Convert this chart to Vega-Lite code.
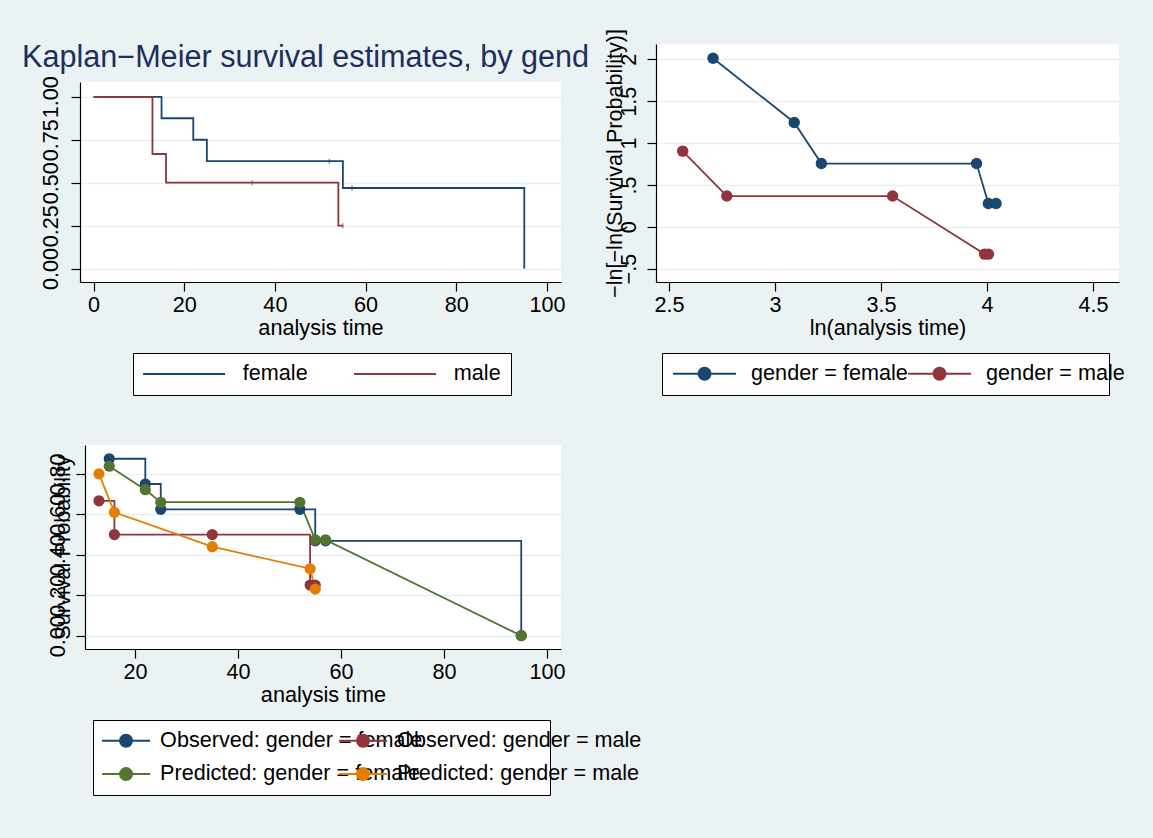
{
  "$schema": "https://vega.github.io/schema/vega-lite/v6.json",
  "background": "#EAF2F3",
  "padding": {"left": 22, "top": 28, "right": 18, "bottom": 43},
  "autosize": {"type": "pad"},
  "config": {
    "font": "Liberation Sans",
    "view": {"stroke": null, "fill": "white"},
    "axis": {
      "domainColor": "black", "tickColor": "black", "domainWidth": 1.2, "tickWidth": 1.2, "tickSize": 9,
      "labelFont": "Liberation Sans", "labelFontSize": 21.6, "labelColor": "black",
      "titleFont": "Liberation Sans", "titleFontSize": 21.7, "titleFontWeight": "normal", "titleColor": "black",
      "gridColor": "#E6EEF1", "gridWidth": 1.5, "labelOverlap": false, "labelFlush": false
    },
    "legend": {"labelFont": "Liberation Sans", "labelFontSize": 21.6, "labelColor": "black", "labelLimit": 500}
  },
  "datasets": {
    "km": [
      {"gender": "female", "time": 0, "surv": 1},
      {"gender": "female", "time": 15, "surv": 0.875},
      {"gender": "female", "time": 22, "surv": 0.75},
      {"gender": "female", "time": 25, "surv": 0.625},
      {"gender": "female", "time": 52, "surv": 0.625},
      {"gender": "female", "time": 55, "surv": 0.469},
      {"gender": "female", "time": 57, "surv": 0.469},
      {"gender": "female", "time": 95, "surv": 0},
      {"gender": "male", "time": 0, "surv": 1},
      {"gender": "male", "time": 13, "surv": 0.667},
      {"gender": "male", "time": 16, "surv": 0.5},
      {"gender": "male", "time": 35, "surv": 0.5},
      {"gender": "male", "time": 54, "surv": 0.25},
      {"gender": "male", "time": 55, "surv": 0.25}
    ],
    "kmcens": [
      {"gender": "female", "time": 52, "surv": 0.625},
      {"gender": "female", "time": 57, "surv": 0.469},
      {"gender": "male", "time": 35, "surv": 0.5},
      {"gender": "male", "time": 55, "surv": 0.25}
    ],
    "loglog": [
      {"group": "gender = female", "lnt": 2.708, "y": 2.013},
      {"group": "gender = female", "lnt": 3.091, "y": 1.246},
      {"group": "gender = female", "lnt": 3.219, "y": 0.755},
      {"group": "gender = female", "lnt": 3.951, "y": 0.755},
      {"group": "gender = female", "lnt": 4.007, "y": 0.278},
      {"group": "gender = female", "lnt": 4.043, "y": 0.278},
      {"group": "gender = male", "lnt": 2.565, "y": 0.903},
      {"group": "gender = male", "lnt": 2.773, "y": 0.367},
      {"group": "gender = male", "lnt": 3.555, "y": 0.367},
      {"group": "gender = male", "lnt": 3.989, "y": -0.327},
      {"group": "gender = male", "lnt": 4.007, "y": -0.327}
    ],
    "p3": [
      {"series": "Observed: gender = female", "time": 15, "surv": 0.875},
      {"series": "Observed: gender = female", "time": 22, "surv": 0.75},
      {"series": "Observed: gender = female", "time": 25, "surv": 0.625},
      {"series": "Observed: gender = female", "time": 52, "surv": 0.625},
      {"series": "Observed: gender = female", "time": 55, "surv": 0.469},
      {"series": "Observed: gender = female", "time": 57, "surv": 0.469},
      {"series": "Observed: gender = female", "time": 95, "surv": 0},
      {"series": "Predicted: gender = female", "time": 15, "surv": 0.838},
      {"series": "Predicted: gender = female", "time": 22, "surv": 0.722},
      {"series": "Predicted: gender = female", "time": 25, "surv": 0.66},
      {"series": "Predicted: gender = female", "time": 52, "surv": 0.66},
      {"series": "Predicted: gender = female", "time": 55, "surv": 0.474},
      {"series": "Predicted: gender = female", "time": 57, "surv": 0.474},
      {"series": "Predicted: gender = female", "time": 95, "surv": 0},
      {"series": "Observed: gender = male", "time": 13, "surv": 0.667},
      {"series": "Observed: gender = male", "time": 16, "surv": 0.5},
      {"series": "Observed: gender = male", "time": 35, "surv": 0.5},
      {"series": "Observed: gender = male", "time": 54, "surv": 0.25},
      {"series": "Observed: gender = male", "time": 55, "surv": 0.25},
      {"series": "Predicted: gender = male", "time": 13, "surv": 0.8},
      {"series": "Predicted: gender = male", "time": 16, "surv": 0.61},
      {"series": "Predicted: gender = male", "time": 35, "surv": 0.44},
      {"series": "Predicted: gender = male", "time": 54, "surv": 0.331},
      {"series": "Predicted: gender = male", "time": 55, "surv": 0.23}
    ]
  },
  "hconcat": [
    {
      "vconcat": [
        {
          "vconcat": [
            {"width": 481, "height": 38, "data": {"values": []}, "mark": "point", "view": {"fill": null, "stroke": null}},
            {
              "width": 481, "height": 200,
              "title": {"text": "Kaplan−Meier survival estimates, by gend", "anchor": "start", "frame": "group", "dx": -58, "dy": 21.7, "fontSize": 30.6, "font": "Liberation Sans", "fontWeight": "normal", "color": "#1C2F5E", "baseline": "alphabetic", "offset": 0},
              "layer": [
                {
                  "data": {"name": "km"},
                  "mark": {"type": "line", "interpolate": "step-after", "strokeWidth": 1.8},
                  "encoding": {
                    "x": {"field": "time", "type": "quantitative", "scale": {"domain": [-2.98, 103.1], "nice": false, "zero": false},
                          "axis": {"values": [0, 20, 40, 60, 80, 100], "title": "analysis time", "grid": false, "labelPadding": 3, "titlePadding": 2}},
                    "y": {"field": "surv", "type": "quantitative", "scale": {"domain": [-0.078, 1.086], "nice": false, "zero": false},
                          "axis": {"values": [0, 0.25, 0.5, 0.75, 1], "format": ".2f", "title": null, "grid": true, "labelAngle": 270, "labelAlign": "center", "labelBaseline": "middle", "labelPadding": 20}},
                    "stroke": {"field": "gender", "type": "nominal", "scale": {"domain": ["female", "male"], "range": ["#1A476F", "#90353B"]},
                               "legend": {"orient": "none", "legendX": 53, "legendY": 271, "direction": "horizontal", "columns": 2, "title": null,
                                          "symbolType": "M-6.83,0H6.83", "symbolSize": 144, "symbolStrokeWidth": 2, "symbolOffset": 30.25, "labelOffset": 48,
                                          "columnPadding": 42, "padding": 10, "strokeColor": "black", "fillColor": "white"}}
                  }
                },
                {
                  "data": {"name": "kmcens"},
                  "mark": {"type": "tick", "orient": "vertical", "size": 5, "thickness": 1.2},
                  "encoding": {
                    "x": {"field": "time", "type": "quantitative"},
                    "y": {"field": "surv", "type": "quantitative"},
                    "color": {"field": "gender", "type": "nominal", "scale": {"domain": ["female", "male"], "range": ["#1A476F", "#90353B"]}, "legend": null}
                  }
                }
              ]
            }
          ],
          "spacing": 0, "bounds": "flush",
          "resolve": {"scale": {"x": "independent", "y": "independent", "color": "independent", "stroke": "independent", "fill": "independent"}, "legend": {"color": "independent", "stroke": "independent", "fill": "independent"}}
        },
        {
          "hconcat": [
            {"width": 5, "height": 1, "data": {"values": []}, "mark": "point", "view": {"fill": null, "stroke": null}},
            {
              "width": 476, "height": 204,
              "data": {"name": "p3"},
              "layer": [
                {
                  "transform": [{"filter": "datum.series == 'Observed: gender = female'"}],
                  "mark": {"type": "line", "interpolate": "step-after", "strokeWidth": 1.8},
                  "encoding": {
                    "x": {"field": "time", "type": "quantitative", "scale": {"domain": [10.29, 102.72], "nice": false, "zero": false},
                          "axis": {"values": [20, 40, 60, 80, 100], "title": "analysis time", "grid": false, "labelPadding": 3, "titlePadding": 2}},
                    "y": {"field": "surv", "type": "quantitative", "scale": {"domain": [-0.066, 0.943], "nice": false, "zero": false},
                          "axis": {"values": [0, 0.2, 0.4, 0.6, 0.8], "format": ".2f", "title": "Survival Probability", "grid": true, "labelAngle": 270, "labelAlign": "center", "labelBaseline": "middle", "labelPadding": 18,
                                   "titleAngle": 270, "titleX": -23, "titleY": 102, "titleAlign": "center", "titleBaseline": "middle"}},
                    "stroke": {"field": "series", "type": "nominal",
                               "scale": {"domain": ["Observed: gender = female", "Predicted: gender = female"], "range": ["#1A476F", "#55752F"]},
                               "legend": {"orient": "none", "legendX": 8, "legendY": 275, "direction": "vertical", "title": " ", "titleOrient": "right", "titlePadding": 118, "titleFontSize": 10, "zindex": 1,
                                          "symbolType": "M-4,0H4M-1,0A1,1,0,1,0,1,0A1,1,0,1,0,-1,0Z", "symbolSize": 144, "symbolStrokeWidth": 2, "symbolOffset": 12.25, "labelOffset": 23.25,
                                          "rowPadding": 10.3, "padding": 10, "strokeColor": "black", "fillColor": "white"}}
                  }
                },
                {
                  "transform": [{"filter": "datum.series == 'Predicted: gender = female'"}],
                  "mark": {"type": "line", "strokeWidth": 1.8},
                  "encoding": {
                    "x": {"field": "time", "type": "quantitative"},
                    "y": {"field": "surv", "type": "quantitative"},
                    "stroke": {"field": "series", "type": "nominal"}
                  }
                },
                {
                  "transform": [{"filter": "indexof(datum.series, 'female') >= 0"}],
                  "mark": {"type": "point", "filled": true, "size": 125, "opacity": 1},
                  "encoding": {
                    "x": {"field": "time", "type": "quantitative"},
                    "y": {"field": "surv", "type": "quantitative"},
                    "fill": {"field": "series", "type": "nominal",
                             "scale": {"domain": ["Observed: gender = female", "Predicted: gender = female"], "range": ["#1A476F", "#55752F"]},
                             "legend": {"orient": "none", "legendX": 8, "legendY": 275, "direction": "vertical", "title": " ", "titleOrient": "right", "titlePadding": 118, "titleFontSize": 10, "zindex": 1,
                                        "symbolType": "M-4,0H4M-1,0A1,1,0,1,0,1,0A1,1,0,1,0,-1,0Z", "symbolSize": 144, "symbolStrokeWidth": 2, "symbolOffset": 12.25, "labelOffset": 23.25,
                                        "rowPadding": 10.3, "padding": 10, "strokeColor": "black", "fillColor": "white"}}
                  }
                },
                {
                  "transform": [{"filter": "datum.series == 'Observed: gender = male'"}],
                  "mark": {"type": "line", "interpolate": "step-after", "strokeWidth": 1.8},
                  "encoding": {
                    "x": {"field": "time", "type": "quantitative"},
                    "y": {"field": "surv", "type": "quantitative"},
                    "color": {"field": "series", "type": "nominal",
                              "scale": {"domain": ["Observed: gender = male", "Predicted: gender = male"], "range": ["#90353B", "#E37E00"]},
                              "legend": {"orient": "none", "legendX": 245, "legendY": 275, "direction": "vertical", "title": null, "zindex": 2,
                                         "symbolType": "M-4,0H4M-1,0A1,1,0,1,0,1,0A1,1,0,1,0,-1,0Z", "symbolSize": 144, "symbolStrokeWidth": 2, "symbolOffset": 12.25, "labelOffset": 23.25,
                                         "rowPadding": 10.3, "padding": 10, "strokeColor": null, "fillColor": null,
                                         "encode": {"symbols": {"update": {
                                           "fill": {"signal": "datum.value == 'Observed: gender = male' ? '#90353B' : '#E37E00'"},
                                           "stroke": {"signal": "datum.value == 'Observed: gender = male' ? '#90353B' : '#E37E00'"}}}}}}
                  }
                },
                {
                  "transform": [{"filter": "datum.series == 'Predicted: gender = male'"}],
                  "mark": {"type": "line", "strokeWidth": 1.8},
                  "encoding": {
                    "x": {"field": "time", "type": "quantitative"},
                    "y": {"field": "surv", "type": "quantitative"},
                    "color": {"field": "series", "type": "nominal"}
                  }
                },
                {
                  "transform": [{"filter": "indexof(datum.series, 'female') < 0"}],
                  "mark": {"type": "point", "filled": true, "size": 125, "opacity": 1},
                  "encoding": {
                    "x": {"field": "time", "type": "quantitative"},
                    "y": {"field": "surv", "type": "quantitative"},
                    "color": {"field": "series", "type": "nominal"}
                  }
                }
              ]
            }
          ],
          "spacing": 0, "bounds": "flush",
          "resolve": {"scale": {"x": "independent", "y": "independent", "color": "independent", "stroke": "independent", "fill": "independent"}, "legend": {"color": "independent", "stroke": "independent", "fill": "independent"}}
        }
      ],
      "spacing": 401, "bounds": "flush",
      "resolve": {"scale": {"x": "independent", "y": "independent", "color": "independent", "stroke": "independent", "fill": "independent"}, "legend": {"color": "independent", "stroke": "independent", "fill": "independent"}}
    },
    {
      "width": 463, "height": 238,
      "data": {"name": "loglog"},
      "layer": [
        {
          "transform": [{"filter": "datum.group == 'gender = female'"}],
          "mark": {"type": "line", "strokeWidth": 1.8},
          "encoding": {
            "x": {"field": "lnt", "type": "quantitative", "scale": {"domain": [2.439, 4.623], "nice": false, "zero": false},
                  "axis": {"values": [2.5, 3, 3.5, 4, 4.5], "format": "~g", "title": "ln(analysis time)", "grid": false, "labelPadding": 3, "titlePadding": 2}},
            "y": {"field": "y", "type": "quantitative", "scale": {"domain": [-0.66, 2.183], "nice": false, "zero": false},
                  "axis": {"values": [-0.5, 0, 0.5, 1, 1.5, 2], "labelExpr": "datum.value == 0.5 ? '.5' : datum.value == -0.5 ? '−.5' : format(datum.value, '~g')", "title": "−ln[−ln(Survival Probability)]", "grid": true,
                           "labelAngle": 270, "labelAlign": "center", "labelBaseline": "middle", "labelPadding": 18,
                           "titleAngle": 270, "titleX": -41, "titleY": 119, "titleAlign": "center", "titleBaseline": "middle", "titleFontSize": 21.6}},
            "stroke": {"field": "group", "type": "nominal", "scale": {"domain": ["gender = female"], "range": ["#1A476F"]},
                       "legend": {"orient": "none", "legendX": 6, "legendY": 309, "direction": "horizontal", "title": " ", "titleOrient": "right", "titlePadding": 191, "titleFontSize": 10, "zindex": 1,
                                  "symbolType": "M-5.25,0H5.25M-1,0A1,1,0,1,0,1,0A1,1,0,1,0,-1,0Z", "symbolSize": 144, "symbolStrokeWidth": 2, "symbolOffset": 21.75, "labelOffset": 35.75,
                                  "padding": 10, "strokeColor": "black", "fillColor": "white"}}
          }
        },
        {
          "transform": [{"filter": "datum.group == 'gender = female'"}],
          "mark": {"type": "point", "filled": true, "size": 130, "opacity": 1},
          "encoding": {
            "x": {"field": "lnt", "type": "quantitative"},
            "y": {"field": "y", "type": "quantitative"},
            "fill": {"field": "group", "type": "nominal", "scale": {"domain": ["gender = female"], "range": ["#1A476F"]},
                     "legend": {"orient": "none", "legendX": 6, "legendY": 309, "direction": "horizontal", "title": " ", "titleOrient": "right", "titlePadding": 191, "titleFontSize": 10, "zindex": 1,
                                "symbolType": "M-5.25,0H5.25M-1,0A1,1,0,1,0,1,0A1,1,0,1,0,-1,0Z", "symbolSize": 144, "symbolStrokeWidth": 2, "symbolOffset": 21.75, "labelOffset": 35.75,
                                "padding": 10, "strokeColor": "black", "fillColor": "white"}}
          }
        },
        {
          "transform": [{"filter": "datum.group == 'gender = male'"}],
          "mark": {"type": "line", "strokeWidth": 1.8},
          "encoding": {
            "x": {"field": "lnt", "type": "quantitative"},
            "y": {"field": "y", "type": "quantitative"},
            "color": {"field": "group", "type": "nominal", "scale": {"domain": ["gender = male"], "range": ["#90353B"]},
                      "legend": {"orient": "none", "legendX": 241, "legendY": 309, "direction": "horizontal", "title": null, "zindex": 2,
                                 "symbolType": "M-5.25,0H5.25M-1,0A1,1,0,1,0,1,0A1,1,0,1,0,-1,0Z", "symbolSize": 144, "symbolStrokeWidth": 2, "symbolOffset": 21.75, "labelOffset": 35.75,
                                 "padding": 10, "strokeColor": null, "fillColor": null,
                                 "encode": {"symbols": {"update": {"fill": {"value": "#90353B"}, "stroke": {"value": "#90353B"}}}}}}
          }
        },
        {
          "transform": [{"filter": "datum.group == 'gender = male'"}],
          "mark": {"type": "point", "filled": true, "size": 130, "opacity": 1},
          "encoding": {
            "x": {"field": "lnt", "type": "quantitative"},
            "y": {"field": "y", "type": "quantitative"},
            "color": {"field": "group", "type": "nominal"}
          }
        }
      ]
    }
  ],
  "spacing": 576, "bounds": "flush",
  "resolve": {"scale": {"x": "independent", "y": "independent", "color": "independent", "stroke": "independent", "fill": "independent"}, "legend": {"color": "independent", "stroke": "independent", "fill": "independent"}}
}
